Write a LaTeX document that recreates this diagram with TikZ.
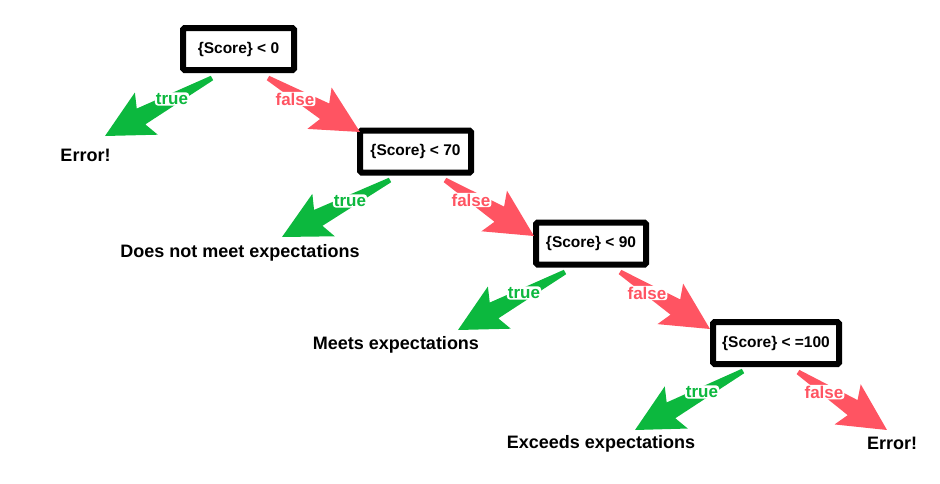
\documentclass[tikz,border=0pt]{standalone}
\usepackage{fontspec}
\setmainfont{Liberation Sans}
\usetikzlibrary{calc}

\definecolor{truegreen}{RGB}{12,184,62}
\definecolor{falsered}{RGB}{255,84,98}

% fat tapered arrow: tail, tip, colour
\newcommand{\bigarrow}[3]{%
  \fill[#3] let \p1=(#1), \p2=(#2), \n1={atan2(\y2-\y1,\x2-\x1)}, \n2={veclen(\x2-\x1,\y2-\y1)} in
    [shift={(\p1)}, rotate=\n1] (0pt,-2.5pt) -- ({\n2-41pt},-9pt) -- ({\n2-47pt},-24pt) -- (\n2,0pt)
    -- ({\n2-47pt},24pt) -- ({\n2-41pt},9pt) -- (0pt,2.5pt) -- cycle;}

\begin{document}
\begin{tikzpicture}[x=1pt, y=-1pt,
    box/.style={draw, line width=6pt, rounded corners=1.5pt, minimum height=42pt, inner sep=0pt,
                font=\bfseries\fontsize{15.5}{18}\selectfont},
    res/.style={font=\bfseries\fontsize{18}{21}\selectfont},
    lbl/.style={fill=white, rounded corners=3pt, inner sep=1pt, font=\bfseries\fontsize{17}{19}\selectfont},
    yes/.style={lbl, text=truegreen},
    no/.style={lbl, text=falsered}
    ]
    \useasboundingbox (0,0) rectangle (940,483);

    % tests
    \node (b1) [box, minimum width=111pt] at (238.5,49) {\{Score\} < 0};
    \node (b2) [box, minimum width=111pt] at (415.5,151.5) {\{Score\} < 70};
    \node (b3) [box, minimum width=110pt] at (591,243.5) {\{Score\} < 90};
    \node (b4) [box, minimum width=126pt] at (776,343) {\{Score\} < =100};

    % outcomes
    \node (err1) [res] at (85.5,155) {Error!};
    \node (dnm) [res] at (240,253) {Does not meet expectations};
    \node (meets) [res] at (396,345) {Meets expectations};
    \node (exc) [res] at (601,444) {Exceeds expectations};
    \node (err2) [res] at (892,443) {Error!};

    % arrow ends
    \coordinate (g1s) at (212,78);  \coordinate (g1e) at (105,136);
    \coordinate (r1s) at (268,78);  \coordinate (r1e) at (360,132);
    \coordinate (g2s) at (390,180); \coordinate (g2e) at (282,237);
    \coordinate (r2s) at (445,180); \coordinate (r2e) at (534,236);
    \coordinate (g3s) at (565,272); \coordinate (g3e) at (458,330);
    \coordinate (r3s) at (620,272); \coordinate (r3e) at (710,329);
    \coordinate (g4s) at (743,371); \coordinate (g4e) at (635,430);
    \coordinate (r4s) at (798,372); \coordinate (r4e) at (887,430);

    \bigarrow{g1s}{g1e}{truegreen}
    \bigarrow{r1s}{r1e}{falsered}
    \bigarrow{g2s}{g2e}{truegreen}
    \bigarrow{r2s}{r2e}{falsered}
    \bigarrow{g3s}{g3e}{truegreen}
    \bigarrow{r3s}{r3e}{falsered}
    \bigarrow{g4s}{g4e}{truegreen}
    \bigarrow{r4s}{r4e}{falsered}

    % branch labels
    \node (t1) [yes] at (172,99) {true};
    \node (f1) [no] at (295,99) {false};
    \node (t2) [yes] at (350,201) {true};
    \node (f2) [no] at (471,200) {false};
    \node (t3) [yes] at (524,293) {true};
    \node (f3) [no] at (647,293) {false};
    \node (t4) [yes] at (702,392) {true};
    \node (f4) [no] at (824,392) {false};
\end{tikzpicture}
\end{document}
